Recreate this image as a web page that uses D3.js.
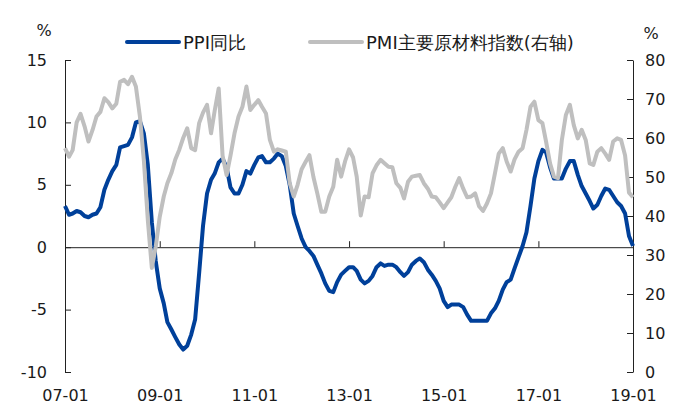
<!DOCTYPE html>
<html><head><meta charset="utf-8">
<script src="https://cdn.jsdelivr.net/npm/d3@7"></script>
<style>
html,body{margin:0;padding:0;background:#fff;}
svg{display:block;}
text{font-family:"DejaVu Sans",Verdana,sans-serif;}
</style></head>
<body><svg id="c" width="680" height="416"></svg>
<script>
const startMonth = new Date(2007, 0, 1);
const endMonth = new Date(2019, 0, 1);
const xTickLabels = ["07-01","09-01","11-01","13-01","15-01","17-01","19-01"];
const leftTicks = [-10,-5,0,5,10,15];
const rightTicks = [0,10,20,30,40,50,60,70,80];
const seriesNames = ["PPI同比","PMI主要原材料指数(右轴)"];
const ppi = [
 3.3,2.6,2.7,2.9,2.8,2.5,2.4,2.6,2.7,3.2,4.6,5.4,
 6.1,6.6,8.0,8.1,8.2,8.8,10.0,10.1,9.1,6.6,2.0,-1.1,
 -3.3,-4.5,-6.0,-6.6,-7.2,-7.8,-8.2,-7.9,-7.0,-5.8,-2.1,1.7,
 4.3,5.4,5.9,6.8,7.1,6.4,4.8,4.3,4.3,5.0,6.1,5.9,
 6.6,7.2,7.3,6.8,6.8,7.1,7.5,7.3,6.5,5.0,2.7,1.7,
 0.7,0.0,-0.3,-0.7,-1.4,-2.1,-2.9,-3.5,-3.6,-2.8,-2.2,-1.9,
 -1.6,-1.6,-1.9,-2.6,-2.9,-2.7,-2.3,-1.6,-1.3,-1.5,-1.4,-1.4,
 -1.6,-2.0,-2.3,-2.0,-1.4,-1.1,-0.9,-1.2,-1.8,-2.2,-2.7,-3.3,
 -4.3,-4.8,-4.6,-4.6,-4.6,-4.8,-5.4,-5.9,-5.9,-5.9,-5.9,-5.9,
 -5.3,-4.9,-4.3,-3.4,-2.8,-2.6,-1.7,-0.8,0.1,1.2,3.3,5.5,
 6.9,7.8,7.6,6.4,5.5,5.5,5.5,6.3,6.9,6.9,5.8,4.9,
 4.3,3.7,3.1,3.4,4.1,4.7,4.6,4.1,3.6,3.3,2.7,0.9,
 0.1];
const pmi = [
 57.4,55.2,56.9,64,66.2,63,59.1,62,65.5,66.7,70.2,69.2,
 67.6,68.8,74.4,74.9,73.8,75.7,73.2,65.5,54,39,26.7,32.1,
 39.8,45,48.4,51,54.5,57,60,62.5,57.4,56.9,63.8,66.5,
 68.5,61.2,67,72.7,55.5,50.5,55.5,61.2,65.5,68,73.2,67.2,
 68.5,69.7,68,66.3,59.5,56.5,57.1,56.8,56.5,48.4,45,48,
 52,53.9,55.6,50,45.8,41.1,41.1,45,47.5,54.4,50.1,54,
 57.1,55,50.1,40.1,45,44.8,50.9,53,54.4,53.5,52.6,52.5,
 48.4,47.2,44.5,48.8,50.1,50.3,50.5,48.4,47,45,44.8,43.5,
 42,43.5,44.8,47.5,49.7,47,44.8,45,45.8,42.5,41.3,43.2,
 45.8,51,56,57.4,54,51.4,54.5,56.5,57.4,62.1,68,69.3,
 64.6,63.8,59.1,53.5,50.1,49.7,59.5,65.9,68.5,63.3,59.9,62.1,
 59.5,53.5,53.1,56.5,57.4,56,54.4,59.1,59.9,59.5,55.5,46,44.8,
 46.2].slice(0,145);

const months = d3.timeMonth.range(startMonth, d3.timeMonth.offset(endMonth,1));
const blue = "#00409A", gray = "#BFBFBF";
const svg = d3.select("#c");
const L = 65, R = 633, T = 60, B = 372;
const x = d3.scaleTime().domain([startMonth, endMonth]).range([L, R]);
const yL = d3.scaleLinear().domain([-10, 15]).range([B, T]);
const yR = d3.scaleLinear().domain([0, 80]).range([B, T]);
const fmt = d => String(d);

// left axis
const gl = svg.append("g").attr("transform", `translate(${L},0)`)
  .call(d3.axisLeft(yL).tickValues(leftTicks).tickSize(-6).tickPadding(18).tickSizeOuter(0).tickFormat(fmt));
// right axis
const gr = svg.append("g").attr("transform", `translate(${R},0)`)
  .call(d3.axisRight(yR).tickValues(rightTicks).tickSize(-6).tickPadding(12).tickSizeOuter(0).tickFormat(fmt));
// zero line with ticks
const tickDates = xTickLabels.map(s => new Date(2000 + +s.slice(0,2), +s.slice(3,5)-1, 1));
const gz = svg.append("g").attr("transform", `translate(0,${yL(0)})`)
  .call(d3.axisBottom(x).tickValues(tickDates).tickSize(-6).tickFormat("").tickSizeOuter(0));
// bottom labels
const gb = svg.append("g").attr("transform", `translate(0,${B})`)
  .call(d3.axisBottom(x).tickValues(tickDates).tickSize(0).tickPadding(18)
    .tickFormat((d,i) => xTickLabels[i]));
gb.select(".domain").remove();

[gl, gr, gz, gb].forEach(g => {
  g.selectAll("text").attr("font-size", 16).attr("fill", "#1a1a1a")
   .attr("font-family", '"DejaVu Sans",Verdana,sans-serif');
  g.selectAll("line,path").attr("stroke", "#222").attr("stroke-width", 1);
});

const lineL = d3.line().x((d,i) => x(months[i])).y(d => yL(d)).curve(d3.curveLinear);
const lineR = d3.line().x((d,i) => x(months[i])).y(d => yR(d)).curve(d3.curveLinear);

svg.append("path").datum(ppi).attr("d", lineL).attr("fill", "none")
  .attr("stroke", blue).attr("stroke-width", 4).attr("stroke-linejoin", "round");
svg.append("path").datum(pmi).attr("d", lineR).attr("fill", "none")
  .attr("stroke", gray).attr("stroke-width", 4).attr("stroke-linejoin", "round");

// unit labels
svg.append("text").attr("x", 44).attr("y", 36).attr("text-anchor", "middle")
  .attr("font-size", 16).attr("fill", "#1a1a1a").text("%");
svg.append("text").attr("x", 651).attr("y", 39).attr("text-anchor", "middle")
  .attr("font-size", 16).attr("fill", "#1a1a1a").text("%");

// legend
const lg = svg.append("g");
const legendItems = [{name: seriesNames[0], color: blue, x0: 127}, {name: seriesNames[1], color: gray, x0: 310}];
legendItems.forEach(it => {
  lg.append("line").attr("x1", it.x0).attr("x2", it.x0 + 52).attr("y1", 42).attr("y2", 42)
    .attr("stroke", it.color).attr("stroke-width", 4).attr("stroke-linecap", "round");
  lg.append("text").attr("x", it.x0 + 56).attr("y", 48.5).attr("font-size", 18)
    .attr("fill", "#1a1a1a").attr("font-family", '"DejaVu Sans Condensed","Noto Sans CJK SC",sans-serif').text(it.name);
});
</script></body></html>
